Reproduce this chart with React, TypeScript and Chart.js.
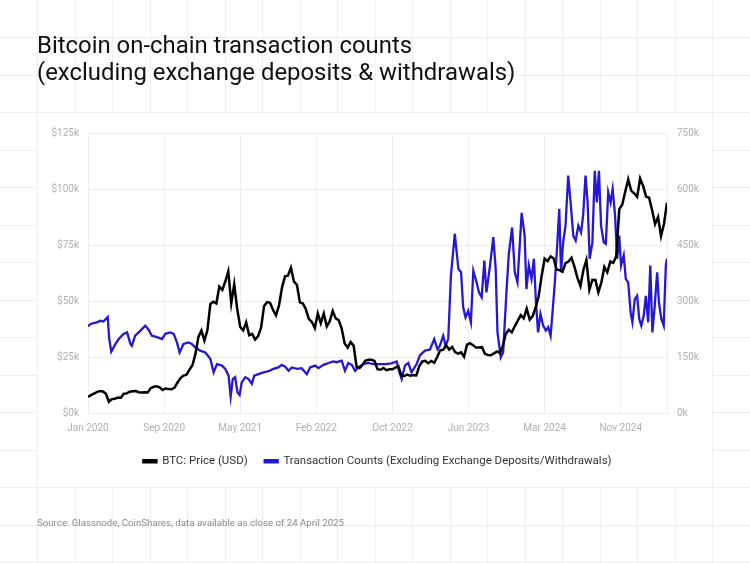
import React, { useEffect, useRef } from 'react';
import { Chart, registerables } from 'chart.js';

Chart.register(...registerables);

// ---------- DATA ----------
// BTC price (USD thousands), one sample every 10 days starting 1 Jan 2020
const priceStepDays = 10;
const btcPriceK = [
  7.2, 8.0, 8.7, 9.35, 9.85, 9.6, 8.55, 5.0, 6.2, 6.4,
  6.9, 6.85, 8.6, 8.75, 9.5, 9.7, 9.8, 9.3, 9.2, 9.25,
  9.2, 11.1, 11.7, 11.95, 11.5, 10.3, 10.95, 10.75, 10.6, 11.35,
  13.6, 15.6, 16.7, 17.1, 19.35, 21.3, 26.4, 34.0, 36.8, 32.3,
  36.9, 48.7, 49.7, 48.9, 56.4, 55.0, 58.7, 63.2, 49.0, 57.5,
  46.4, 38.4, 36.9, 40.5, 34.7, 35.3, 32.8, 34.3, 38.2, 47.8,
  49.5, 49.2, 46.0, 43.6, 48.0, 56.0, 61.0, 61.3, 64.9, 58.7,
  57.2, 49.4, 48.9, 46.3, 41.9, 40.7, 37.9, 44.4, 40.1, 44.4,
  38.7, 41.0, 45.5, 42.2, 41.5, 37.7, 31.0, 29.2, 31.7, 30.1,
  20.6, 20.1, 21.6, 23.4, 23.8, 23.8, 23.2, 19.6, 19.3, 20.1,
  19.1, 19.5, 19.5, 20.3, 20.9, 16.7, 16.5, 17.1, 16.6, 16.9,
  16.8, 20.9, 23.0, 23.3, 22.2, 23.2, 22.4, 25.0, 28.0, 28.2,
  30.3, 28.3, 29.5, 27.2, 26.5, 27.1, 25.1, 30.5, 31.2, 30.3,
  29.2, 29.2, 29.4, 26.4, 25.9, 25.8, 26.6, 27.5, 26.8, 30.0,
  35.4, 37.1, 36.0, 38.7, 41.2, 43.7, 42.3, 46.6, 41.7, 43.3,
  47.1, 52.1, 61.2, 68.9, 67.8, 69.9, 69.1, 64.0, 63.8, 63.1,
  66.9, 67.6, 69.3, 65.2, 60.3, 56.7, 63.9, 68.3, 55.0, 59.5,
  59.4, 53.9, 58.2, 65.2, 62.8, 67.6, 67.0, 70.0, 91.0, 93.0,
  98.8, 104.3, 99.3, 98.1, 96.5, 104.7, 101.4, 96.6, 96.1, 90.6,
  84.3, 87.5, 79.0, 84.5, 93.9,
];

// Transaction counts (thousands), read at these day offsets from 1 Jan 2020
const txDays = [
  0, 8, 19, 30, 41, 52, 66, 71, 78, 92, 103, 119, 131, 142, 147, 158, 175, 192, 203, 214,
  231, 248, 259, 276, 287, 298, 307, 320, 337, 348, 359, 376, 393, 410, 421, 432, 449, 460, 471, 478,
  485, 493, 501, 508, 515, 527, 538, 549, 557, 571, 588, 605, 621, 638, 649, 660, 672, 683, 700, 716,
  733, 744, 761, 772, 789, 806, 822, 833, 850, 861, 872, 884, 895, 906, 923, 939, 956, 978, 995, 1017,
  1034, 1042, 1051, 1062, 1073, 1084, 1101, 1112, 1129, 1146, 1160, 1171, 1179, 1190, 1198, 1207, 1216, 1229, 1241, 1250,
  1257, 1265, 1274, 1283, 1291, 1302, 1310, 1319, 1328, 1335, 1347, 1358, 1366, 1372, 1383, 1391, 1402, 1410, 1421, 1430,
  1439, 1453, 1463, 1469, 1477, 1486, 1494, 1501, 1508, 1516, 1525, 1534, 1542, 1550, 1556, 1565, 1572, 1579, 1585, 1592,
  1600, 1609, 1617, 1626, 1634, 1643, 1652, 1659, 1667, 1674, 1681, 1690, 1698, 1705, 1712, 1719, 1728, 1735, 1743, 1751,
  1758, 1766, 1773, 1780, 1786, 1795, 1802, 1810, 1818, 1824, 1832, 1840, 1847, 1854, 1862, 1869, 1877, 1884, 1891, 1899,
  1907, 1913, 1921, 1929, 1936, 1940,
];
const txCountsK = [
  232, 238, 241, 243, 247, 245, 257, 200, 164, 185, 198, 212, 216, 185, 180, 207, 220, 234, 223, 207,
  203, 198, 212, 216, 212, 189, 162, 185, 189, 185, 176, 167, 162, 145, 109, 131, 127, 118, 100, 44,
  91, 96, 55, 48, 82, 96, 91, 78, 100, 104, 109, 112, 118, 122, 129, 125, 113, 122, 118, 120,
  104, 122, 127, 120, 129, 134, 138, 136, 140, 113, 134, 129, 113, 122, 131, 134, 131, 131, 131, 133,
  138, 113, 91, 127, 134, 109, 131, 154, 167, 170, 198, 171, 180, 207, 180, 198, 368, 480, 386, 377,
  283, 256, 274, 243, 381, 350, 323, 310, 408, 323, 395, 471, 386, 216, 149, 163, 323, 426, 497, 377,
  350, 536, 475, 332, 395, 359, 413, 296, 216, 265, 234, 221, 230, 207, 265, 359, 448, 547, 377, 457,
  502, 636, 564, 475, 462, 502, 484, 529, 636, 564, 413, 457, 649, 564, 649, 502, 457, 453, 591, 564,
  600, 529, 413, 475, 395, 422, 359, 350, 270, 243, 305, 314, 252, 234, 261, 314, 243, 395, 216, 288,
  377, 296, 252, 234, 395, 413,
];

const xTickStepDays = 255;
const xTickLabels = ['Jan 2020', 'Sep 2020', 'May 2021', 'Feb 2022', 'Oct 2022', 'Jun 2023', 'Mar 2024', 'Nov 2024'];
const xMaxDay = 1940;
const priceAxis = { min: 0, max: 125, step: 25 };
const countAxis = { min: 0, max: 750, step: 150 };

const seriesNames = ['BTC: Price (USD)', 'Transaction Counts (Excluding Exchange Deposits/Withdrawals)'];
const seriesColors = ['#000000', '#2418d6'];

const titleLines = ['Bitcoin on-chain transaction counts', '(excluding exchange deposits & withdrawals)'];
const sourceText = 'Source: Glassnode, CoinShares, data available as close of 24 April 2025';

const FONT = "Roboto, 'Liberation Sans', sans-serif";

const pageBackground = {
  id: 'pageBackground',
  beforeDraw(chart: any) {
    const ctx = chart.ctx;
    const W = chart.width;
    const H = chart.height;
    ctx.save();
    ctx.fillStyle = '#ffffff';
    ctx.fillRect(0, 0, W, H);
    ctx.strokeStyle = '#efefef';
    ctx.lineWidth = 1;
    ctx.beginPath();
    for (let k = 1; k * 37.5 <= W; k++) {
      const x = Math.floor(k * 37.5) + 0.5;
      ctx.moveTo(x, 0);
      ctx.lineTo(x, H);
    }
    for (let k = 1; k * 37.5 <= H; k++) {
      const y = Math.floor(k * 37.5) + 0.5;
      ctx.moveTo(0, y);
      ctx.lineTo(W, y);
    }
    ctx.stroke();
    ctx.fillStyle = '#ffffff';
    ctx.fillRect(38, 113, 674, 374);
    ctx.restore();
  },
};

export default function App() {
  const canvasRef = useRef<HTMLCanvasElement | null>(null);

  useEffect(() => {
    const canvas = canvasRef.current;
    if (!canvas) return;
    const priceData = btcPriceK.map((v, i) => ({ x: i * priceStepDays, y: v }));
    const txData = txCountsK.map((v, i) => ({ x: txDays[i], y: v }));

    const chart = new Chart(canvas, {
      type: 'line',
      data: {
        datasets: [
          {
            label: seriesNames[0],
            data: priceData,
            borderColor: seriesColors[0],
            backgroundColor: seriesColors[0],
            borderWidth: 2.5,
            pointRadius: 0,
            tension: 0,
            yAxisID: 'y',
          },
          {
            label: seriesNames[1],
            data: txData,
            borderColor: seriesColors[1],
            backgroundColor: seriesColors[1],
            borderWidth: 2.3,
            pointRadius: 0,
            tension: 0,
            yAxisID: 'y1',
          },
        ],
      },
      options: {
        animation: false,
        responsive: false,
        devicePixelRatio: 1,
        layout: { padding: { left: 38, right: 33, top: 133, bottom: 86 } },
        plugins: {
          legend: {
            position: 'bottom',
            labels: {
              boxWidth: 13,
              boxHeight: 2,
              padding: 17,
              color: '#333333',
              font: { family: FONT, size: 11.5 },
            },
          },
          tooltip: { enabled: false },
        },
        scales: {
          x: {
            type: 'linear',
            min: 0,
            max: xMaxDay,
            afterFit: (s: any) => { s.height = 25.5; },
            grid: { color: '#eeeeee', drawTicks: false },
            border: { color: '#eeeeee' },
            ticks: {
              stepSize: xTickStepDays,
              includeBounds: false,
              autoSkip: false,
              maxRotation: 0,
              padding: 9,
              color: '#b0b0b0',
              font: { family: FONT, size: 10 },
              callback: (v: any) => {
                const idx = Math.round(Number(v) / xTickStepDays);
                return Number(v) % xTickStepDays === 0 ? xTickLabels[idx] ?? '' : '';
              },
            },
          },
          y: {
            position: 'left',
            min: priceAxis.min,
            max: priceAxis.max,
            afterFit: (s: any) => { s.width = 50; },
            grid: { color: '#eeeeee', drawTicks: false },
            border: { color: '#eeeeee' },
            ticks: {
              stepSize: priceAxis.step,
              padding: 9,
              color: '#b0b0b0',
              font: { family: FONT, size: 10 },
              callback: (v: any) => `$${v}k`,
            },
          },
          y1: {
            position: 'right',
            min: countAxis.min,
            max: countAxis.max,
            afterFit: (s: any) => { s.width = 50; },
            grid: { drawOnChartArea: false, drawTicks: false },
            border: { color: '#eeeeee' },
            ticks: {
              stepSize: countAxis.step,
              padding: 10,
              color: '#b0b0b0',
              font: { family: FONT, size: 10 },
              callback: (v: any) => `${v}k`,
            },
          },
        },
      },
      plugins: [pageBackground],
    });
    return () => chart.destroy();
  }, []);

  return (
    <div style={{ position: 'fixed', left: 0, top: 0, width: 750, height: 563, overflow: 'hidden', background: '#fff' }}>
      <canvas ref={canvasRef} width={750} height={563} style={{ position: 'absolute', left: 0, top: 0, width: 750, height: 563 }} />
      <div
        style={{
          position: 'absolute',
          left: 37,
          top: 32,
          fontFamily: FONT,
          fontSize: 23.9,
          lineHeight: '27px',
          color: '#111111',
          whiteSpace: 'nowrap',
        }}
      >
        {titleLines.map((t) => (
          <div key={t}>{t}</div>
        ))}
      </div>
      <div
        style={{
          position: 'absolute',
          left: 37,
          top: 516,
          fontFamily: FONT,
          fontSize: 9.7,
          lineHeight: '13px',
          color: '#8a8a8a',
          whiteSpace: 'nowrap',
        }}
      >
        {sourceText}
      </div>
    </div>
  );
}
